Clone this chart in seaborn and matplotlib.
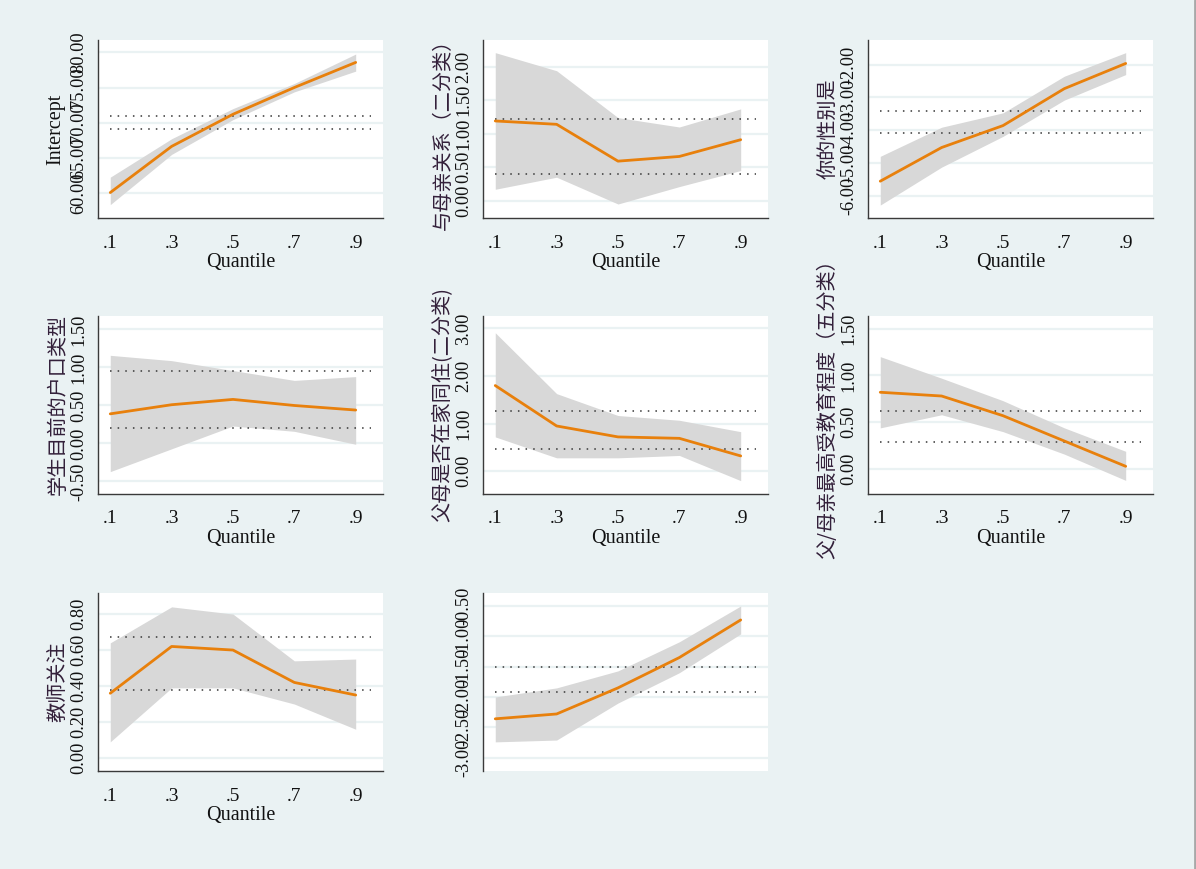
import matplotlib
matplotlib.use("Agg")
import matplotlib.pyplot as plt
from matplotlib.lines import Line2D
import seaborn as sns
import pandas as pd

# ---------------- data ----------------
quantiles = [0.1, 0.3, 0.5, 0.7, 0.9]
xtick_labels = [".1", ".3", ".5", ".7", ".9"]
x_label = "Quantile"

names = ["Intercept", "与母亲关系（二分类）", "你的性别是", "学生目前的户口类型",
         "父母是否在家同住(二分类)", "父/母亲最高受教育程度（五分类）", "教师关注", ""]

coef_intercept = [60.05, 66.62, 71.19, 75.00, 78.57]
lo_intercept = [58.33, 65.48, 70.43, 74.38, 77.33]
hi_intercept = [62.24, 67.71, 72.00, 75.57, 79.76]
ols_intercept = [69.05, 70.95]
yt_intercept = [60, 65, 70, 75, 80]

coef_mother = [1.19, 1.14, 0.59, 0.66, 0.91]
lo_mother = [0.17, 0.35, -0.05, 0.21, 0.45]
hi_mother = [2.21, 1.94, 1.24, 1.10, 1.37]
ols_mother = [0.40, 1.22]
yt_mother = [0.0, 0.5, 1.0, 1.5, 2.0]

coef_gender = [-5.56, -4.53, -3.86, -2.73, -1.96]
lo_gender = [-6.29, -5.13, -4.19, -3.08, -2.30]
hi_gender = [-4.80, -3.91, -3.47, -2.35, -1.63]
ols_gender = [-4.10, -3.42]
yt_gender = [-6, -5, -4, -3, -2]

coef_hukou = [0.39, 0.51, 0.58, 0.50, 0.44]
lo_hukou = [-0.37, -0.07, 0.23, 0.16, -0.01]
hi_hukou = [1.16, 1.09, 0.96, 0.83, 0.88]
ols_hukou = [0.21, 0.96]
yt_hukou = [-0.5, 0.0, 0.5, 1.0, 1.5]

coef_cohab = [1.80, 0.95, 0.72, 0.69, 0.32]
lo_cohab = [0.72, 0.28, 0.28, 0.33, -0.20]
hi_cohab = [2.91, 1.63, 1.17, 1.07, 0.83]
ols_cohab = [0.46, 1.26]
yt_cohab = [0.0, 1.0, 2.0, 3.0]

coef_edu = [0.82, 0.78, 0.57, 0.30, 0.03]
lo_edu = [0.44, 0.58, 0.40, 0.16, -0.12]
hi_edu = [1.20, 0.97, 0.73, 0.44, 0.19]
ols_edu = [0.29, 0.62]
yt_edu = [0.0, 0.5, 1.0, 1.5]

coef_teacher = [0.36, 0.62, 0.60, 0.42, 0.35]
lo_teacher = [0.09, 0.39, 0.39, 0.30, 0.16]
hi_teacher = [0.64, 0.84, 0.80, 0.54, 0.55]
ols_teacher = [0.38, 0.67]
yt_teacher = [0.0, 0.2, 0.4, 0.6, 0.8]

coef_last = [-2.36, -2.28, -1.85, -1.35, -0.73]
lo_last = [-2.74, -2.71, -2.10, -1.60, -0.96]
hi_last = [-2.00, -1.85, -1.57, -1.09, -0.50]
ols_last = [-1.91, -1.51]
yt_last = [-3.0, -2.5, -2.0, -1.5, -1.0, -0.5]

panels = [
    (coef_intercept, lo_intercept, hi_intercept, ols_intercept, yt_intercept, (56.43, 81.76)),
    (coef_mother, lo_mother, hi_mother, ols_mother, yt_mother, (-0.259, 2.399)),
    (coef_gender, lo_gender, hi_gender, ols_gender, yt_gender, (-6.685, -1.243)),
    (coef_hukou, lo_hukou, hi_hukou, ols_hukou, yt_hukou, (-0.658, 1.684)),
    (coef_cohab, lo_cohab, hi_cohab, ols_cohab, yt_cohab, (-0.47, 3.273)),
    (coef_edu, lo_edu, hi_edu, ols_edu, yt_edu, (-0.26, 1.639)),
    (coef_teacher, lo_teacher, hi_teacher, ols_teacher, yt_teacher, (-0.072, 0.917)),
    (coef_last, lo_last, hi_last, ols_last, yt_last, (-3.22, -0.286)),
]

# ---------------- style ----------------
sns.set_style("white")
plt.rcParams["axes.unicode_minus"] = False
plt.rcParams["font.family"] = ["Liberation Serif", "Noto Sans CJK SC", "DejaVu Sans"]

BG = "#EAF2F3"
ORANGE = "#E8800C"
CIFILL = "#D8D8D8"
AXC = "#3a3a3a"
CJK = ["Noto Sans CJK SC", "DejaVu Sans"]

fig = plt.figure(figsize=(11.96, 8.69), dpi=100, facecolor=BG)

W, H = 1196.0, 869.0
col_left = [98, 483, 868]
row_top = [40, 315.5, 593]
aw, ah = 285, 178

for i, (coef, lo, hi, ols, yt, ylim) in enumerate(panels):
    r, c = divmod(i, 3)
    ax = fig.add_axes([col_left[c] / W, 1 - (row_top[r] + ah) / H, aw / W, ah / H])
    ax.set_facecolor("white")
    for y in yt:
        ax.axhline(y, color=BG, lw=1.6, zorder=0)
    ax.fill_between(quantiles, lo, hi, color=CIFILL, lw=0, zorder=1)
    df = pd.DataFrame({"q": quantiles, "b": coef})
    sns.lineplot(data=df, x="q", y="b", ax=ax, color=ORANGE, lw=2.0, zorder=3)
    for v in ols:
        ax.plot([0.1, 0.95], [v, v], color="#353535", lw=1.1,
                linestyle=(0, (1, 4)), zorder=2)
    ax.set_xlim(0.06, 0.989)
    ax.set_ylim(*ylim)
    ax.set_yticks(yt)
    ax.set_yticklabels([f"{v:.2f}" for v in yt], rotation=90, va="center",
                       fontsize=13.2, color="#111111")
    for s in ["top", "right"]:
        ax.spines[s].set_visible(False)
    ax.spines["left"].set_color(AXC)
    ax.spines["left"].set_linewidth(1.0)
    ax.tick_params(axis="y", length=6, width=1, color=AXC, pad=2)
    if i < 7:
        ax.spines["bottom"].set_color(AXC)
        ax.spines["bottom"].set_linewidth(1.0)
        ax.set_xticks(quantiles)
        ax.set_xticklabels(xtick_labels, fontsize=14, color="#111111")
        ax.tick_params(axis="x", length=6, width=1, color=AXC, pad=6)
        ax.set_xlabel(x_label, fontsize=14.5, labelpad=1, color="#111111")
    else:
        ax.spines["bottom"].set_visible(False)
        ax.set_xticks([])
        ax.set_xlabel("")
    name = names[i]
    if name == "Intercept":
        ax.set_ylabel(name, fontsize=14.5, labelpad=3, color="#111111")
    elif name:
        ax.set_ylabel(name, fontsize=14.5, labelpad=1, color="#33203a", family=CJK)
    else:
        ax.set_ylabel("")

fig.add_artist(Line2D([0.9988, 0.9988], [0, 1], color="#a8a8a8", lw=2,
                      transform=fig.transFigure))

fig.savefig("out.png", dpi=100, facecolor=BG)
